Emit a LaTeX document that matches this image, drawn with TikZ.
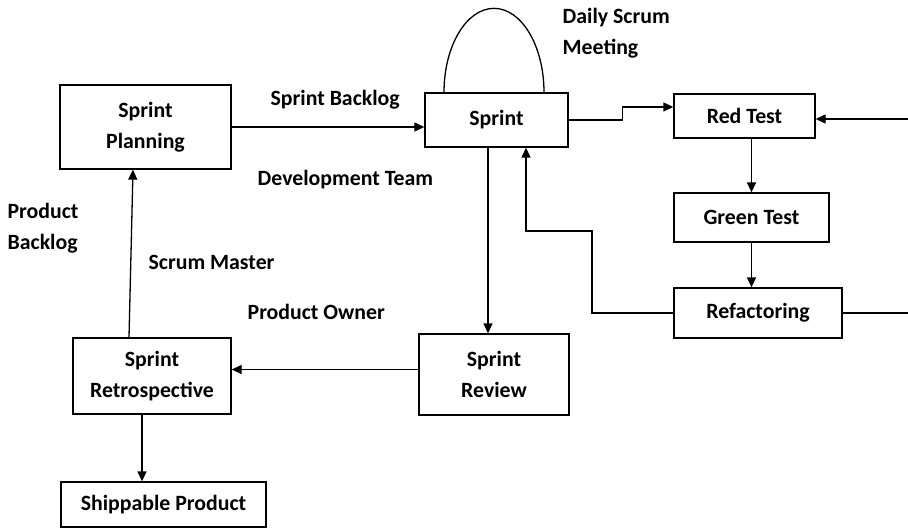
\documentclass[tikz,border=0pt]{standalone}
\usepackage{fontspec}
\setmainfont{Carlito}
\usepackage{tikz}
\usetikzlibrary{arrows.meta}

\begin{document}
\begin{tikzpicture}[
  x=1pt, y=-1pt,
  line width=1.3pt,
  font=\fontsize{21.8}{31}\selectfont\bfseries,
  box/.style={draw, rectangle, inner sep=0pt, align=center},
  lbl/.style={inner sep=0pt, anchor=west, align=left},
  arr/.style={-{Triangle[length=10pt,width=9pt]}},
]
\useasboundingbox (0,0) rectangle (908,528);

% boxes
\node [box, minimum width=171pt, minimum height=84pt] (plan) at (145.5,127) {Sprint\\Planning};
\node [box, minimum width=143pt, minimum height=54pt] (sprint) at (496.5,120) {Sprint};
\node [box, minimum width=141pt, minimum height=44pt] (red) at (744.5,116) {Red Test};
\node [box, minimum width=155pt, minimum height=49pt] (green) at (751.5,217.5) {Green Test};
\node [box, minimum width=168pt, minimum height=50pt] (refac) at (758,313) {Refactoring};
\node [box, minimum width=150pt, minimum height=81pt] (review) at (494,374.5) {Sprint\\Review};
\node [box, minimum width=158pt, minimum height=76pt] (retro) at (152,376) {Sprint\\Retrospective};
\node [box, minimum width=205pt, minimum height=45pt] (ship) at (163.5,504.5) {Shippable Product};

% labels
\node [lbl] (daily) at (562,33) {Daily Scrum\\Meeting};
\node [lbl] (sbl) at (270,100) {Sprint Backlog};
\node [lbl] (dev) at (257,180) {Development Team};
\node [lbl] (pbl) at (7,228) {Product\\Backlog};
\node [lbl] (sm) at (148,262) {Scrum Master};
\node [lbl] (po) at (247,312) {Product Owner};

% free ends
\coordinate (fb) at (592,231);
\coordinate (rin) at (908,119);
\coordinate (rout) at (908,313);

% daily loop
\draw ([xshift=-52.5pt]sprint.north) arc [start angle=180, end angle=0, x radius=50pt, y radius=84pt];

% flow
\draw [arr] (plan.east) -- (plan.east -| sprint.west);
\draw [arr] (sprint.east) -- ++(54,0) |- ([yshift=9pt]red.west);
\draw [arr] (green.north |- red.south) -- (green.north);
\draw [arr] (green.south) -- (green.south |- refac.north);
\draw [arr] (refac.west) -| (fb) -| ([xshift=29.5pt]sprint.south);
\draw (refac.east) -- (rout);
\draw [arr] (rin) -- (rin -| red.east);
\draw [arr] ([xshift=-8.5pt]sprint.south) -- ([xshift=-8.5pt]sprint.south |- review.north);
\draw [arr] ([yshift=5pt]review.west) -- ([yshift=5pt]review.west -| retro.east);
\draw [arr] ([xshift=-23pt]retro.north) -- ([xshift=-12.5pt]plan.south);
\draw [arr] ([xshift=-10pt]retro.south) -- ([xshift=-10pt]retro.south |- ship.north);
\end{tikzpicture}
\end{document}
